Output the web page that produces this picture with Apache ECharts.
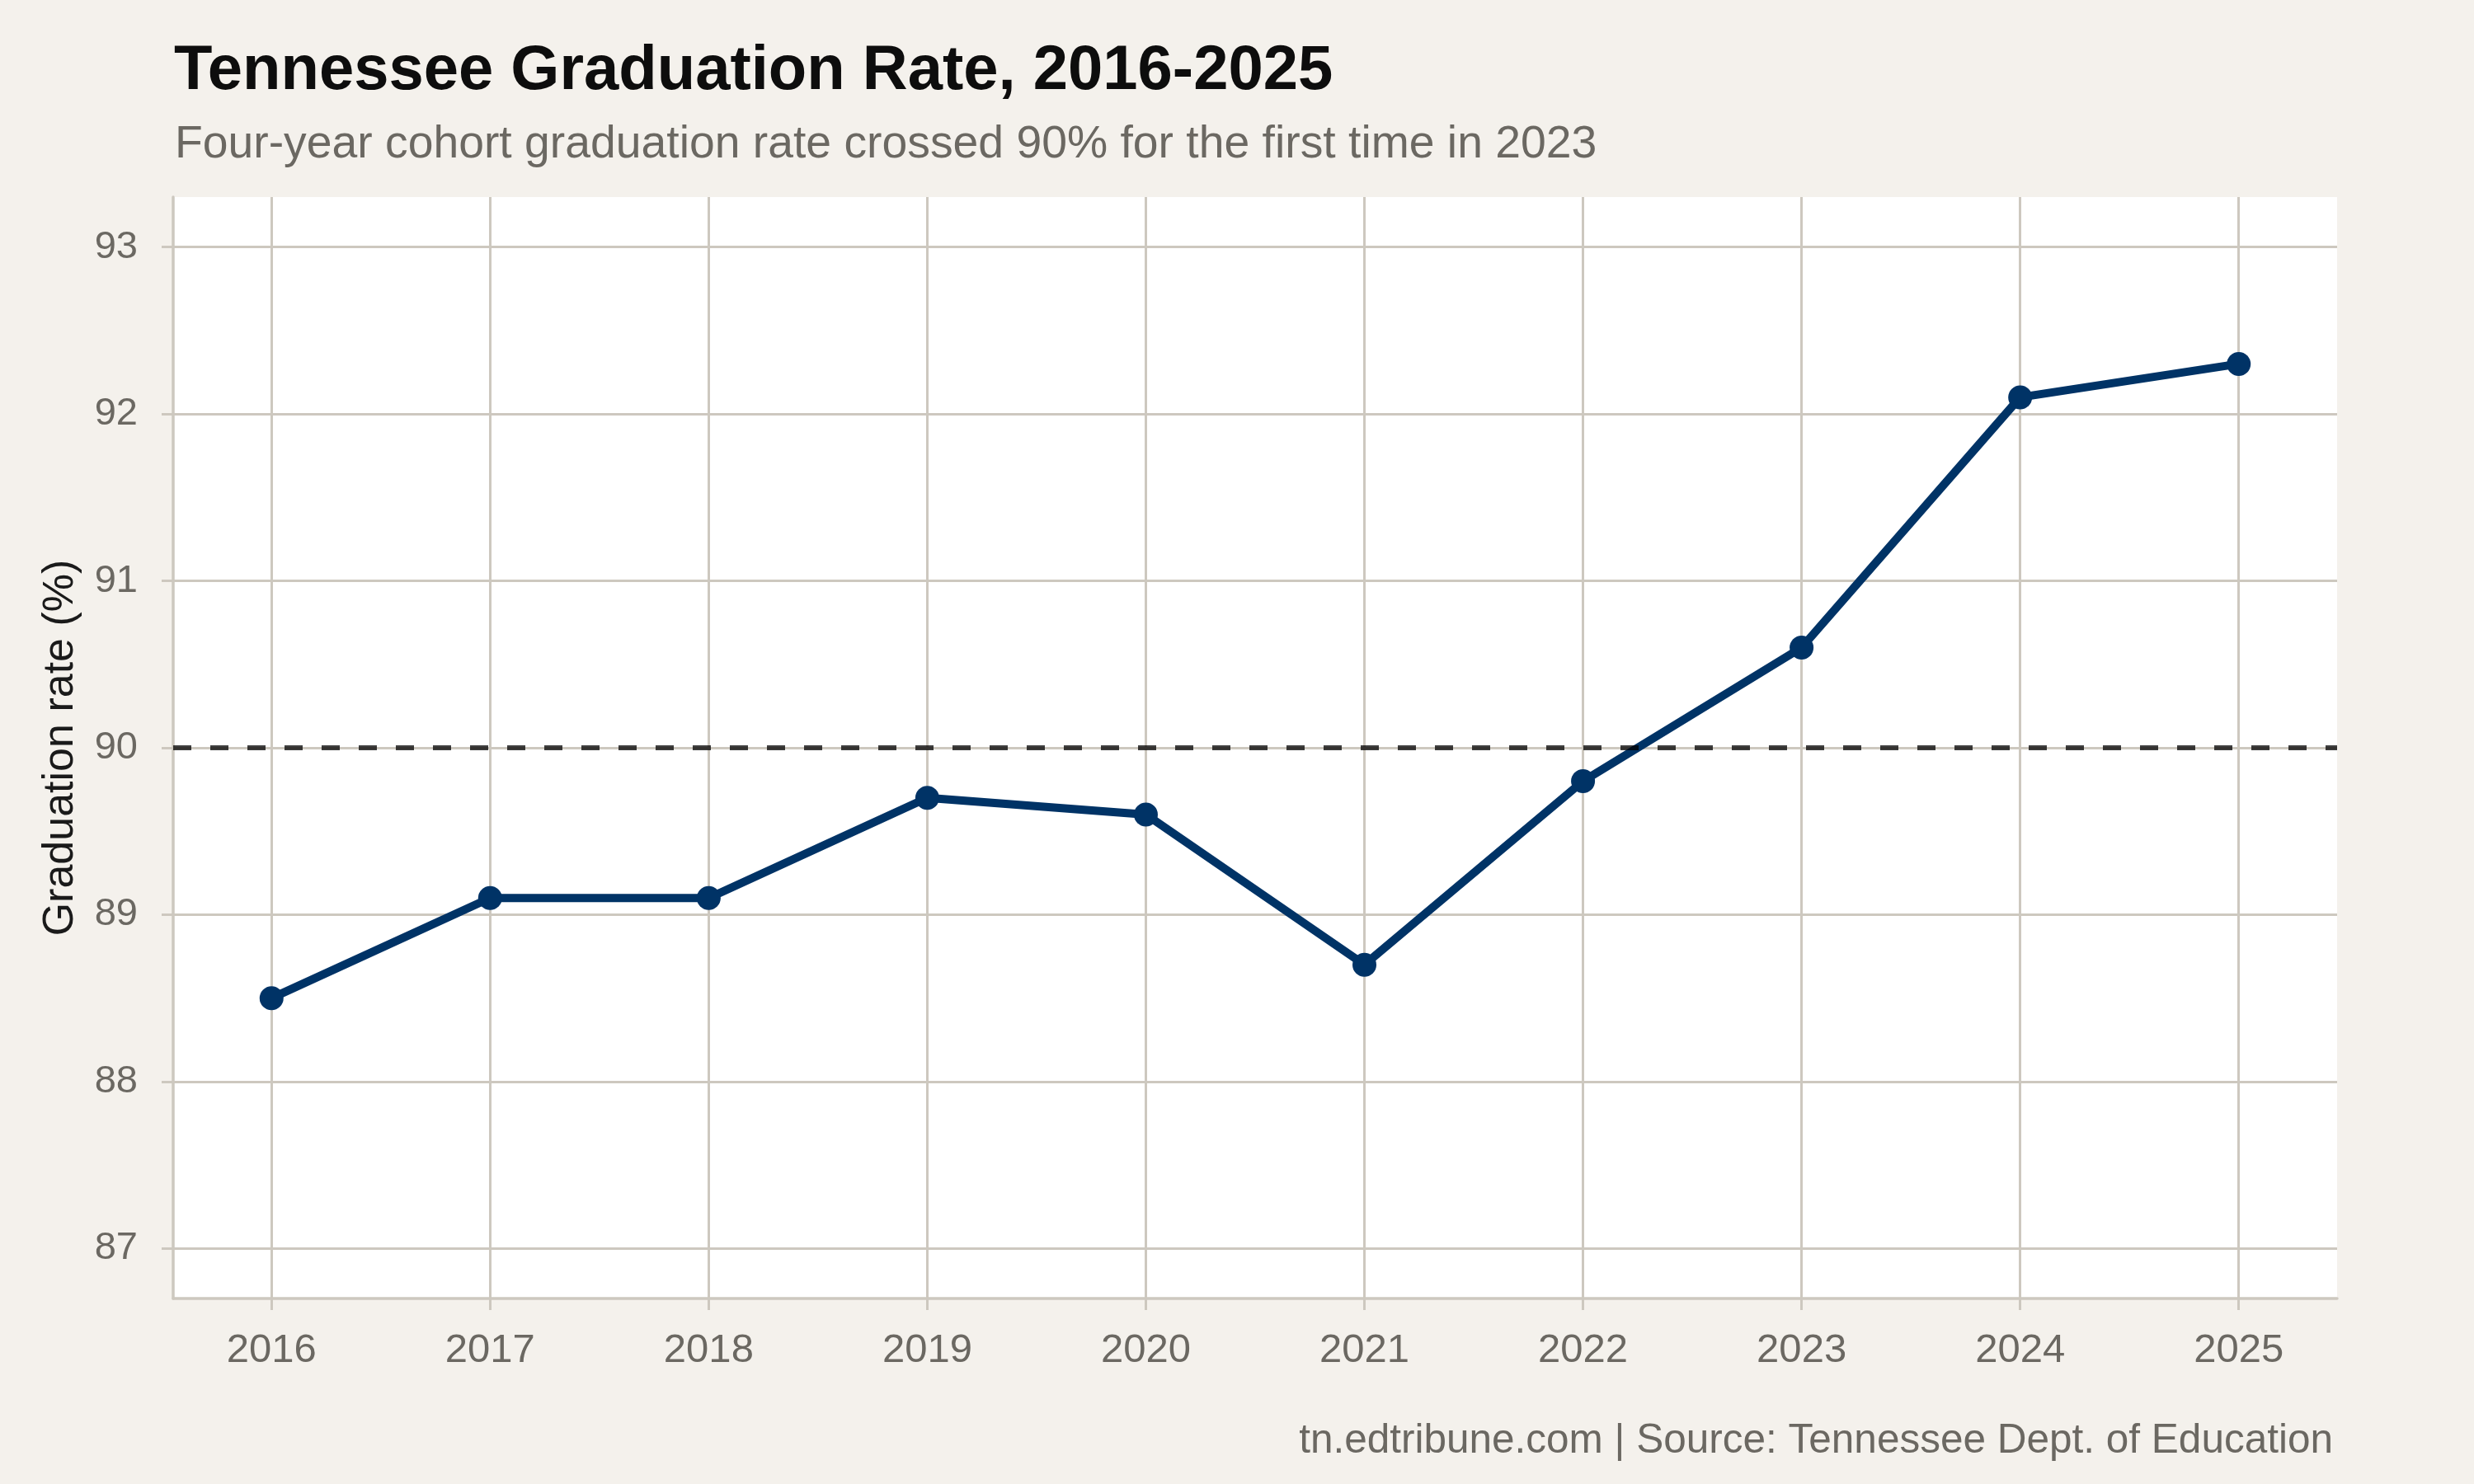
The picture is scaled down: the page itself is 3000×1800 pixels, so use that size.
<!DOCTYPE html>
<html>
<head>
<meta charset="utf-8">
<title>Tennessee Graduation Rate</title>
<script src="https://cdn.jsdelivr.net/npm/echarts@6/dist/echarts.min.js"></script>
<style>
  html, body { margin: 0; padding: 0; background: #f4f1ec; }
  #chart { width: 3000px; height: 1800px; }
</style>
</head>
<body>
<div id="chart"></div>
<script>
var years = [2016, 2017, 2018, 2019, 2020, 2021, 2022, 2023, 2024, 2025]
var gradRate = [88.5, 89.1, 89.1, 89.7, 89.6, 88.7, 89.8, 90.6, 92.1, 92.3]
var yTicks = [87, 88, 89, 90, 91, 92, 93]
var threshold = 90

var font = "'Liberation Sans', Helvetica, Arial, sans-serif"
var gridColor = '#cdc8bf'
var labelColor = '#6b6862'
var navy = '#003366'

var points = []
for (var i = 0; i < years.length; i++) {
  points.push([years[i], gradRate[i]])
}

var myChart = echarts.init(document.getElementById('chart'))

var option = {
  backgroundColor: '#f4f1ec',
  title: [
    {
      text: 'Tennessee Graduation Rate, 2016-2025',
      left: 206, top: 44,
      textStyle: { fontFamily: font, fontSize: 76, fontWeight: 'bold', color: '#0d0d0d' }
    },
    {
      text: 'Four-year cohort graduation rate crossed 90% for the first time in 2023',
      left: 207, top: 143,
      textStyle: { fontFamily: font, fontSize: 55.3, fontWeight: 'normal', color: labelColor }
    },
    {
      text: 'tn.edtribune.com | Source: Tennessee Dept. of Education',
      right: 166, top: 1718,
      textStyle: { fontFamily: font, fontSize: 49.5, fontWeight: 'normal', color: labelColor }
    }
  ],
  grid: {
    left: 210, right: 166, top: 239, bottom: 225,
    show: true, backgroundColor: '#ffffff', borderWidth: 0
  },
  xAxis: {
    type: 'value',
    min: 2015.55,
    max: 2025.45,
    axisLine: { show: true, lineStyle: { color: gridColor, width: 3.5 } },
    axisTick: { show: true, length: 14, customValues: years, lineStyle: { color: gridColor, width: 3 } },
    axisLabel: {
      customValues: years,
      margin: 39,
      fontFamily: font, fontSize: 49, color: labelColor,
      formatter: function (v) { return String(v) }
    },
    splitLine: { show: true, lineStyle: { color: gridColor, width: 3 } }
  },
  yAxis: {
    type: 'value',
    min: 86.7,
    max: 93.3,
    name: 'Graduation rate (%)',
    nameLocation: 'middle',
    nameRotate: 90,
    nameGap: 110,
    nameTextStyle: { fontFamily: font, fontSize: 52, color: '#1a1a1a' },
    axisLine: { show: true, lineStyle: { color: gridColor, width: 3.5 } },
    axisTick: { show: true, length: 14, customValues: yTicks, lineStyle: { color: gridColor, width: 3 } },
    axisLabel: {
      customValues: yTicks,
      margin: 43,
      fontFamily: font, fontSize: 47, color: labelColor
    },
    splitLine: { show: true, lineStyle: { color: gridColor, width: 3 } }
  },
  series: [
    {
      name: 'Graduation rate',
      type: 'line',
      data: points,
      symbol: 'circle',
      symbolSize: 29,
      itemStyle: { color: navy },
      lineStyle: { color: navy, width: 10 },
      z: 3,
      markLine: {
        silent: true,
        symbol: ['none', 'none'],
        label: { show: false },
        lineStyle: { color: 'rgba(0,0,0,0.75)', width: 6, type: [22, 23] },
        data: [{ yAxis: threshold }],
        z: 5
      }
    }
  ]
}

myChart.setOption(option)
</script>
</body>
</html>
